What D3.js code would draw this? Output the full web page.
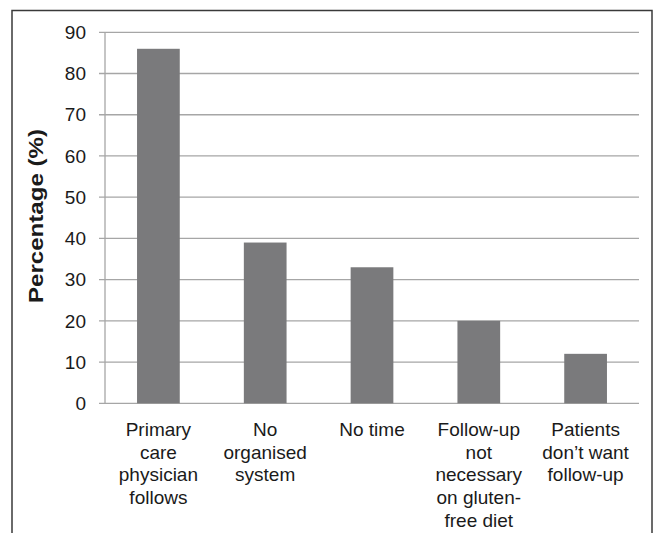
<!DOCTYPE html>
<html><head><meta charset="utf-8">
<script src="https://cdn.jsdelivr.net/npm/d3@7"></script>
<style>body{margin:0;background:#fff}svg{display:block}text{font-family:"Liberation Sans",Arial,sans-serif;fill:#1a1a1a}</style>
</head><body>
<script>
const categories = [
  ["Primary","care","physician","follows"],
  ["No","organised","system"],
  ["No time"],
  ["Follow-up","not","necessary","on gluten-","free diet"],
  ["Patients","don\u2019t want","follow-up"]
];
const values = [86, 39, 33, 20, 12];
const yTicks = [0,10,20,30,40,50,60,70,80,90];
const yTitle = "Percentage (%)";

(function(){
const W = 658, H = 533;
const svg = d3.select("body").append("svg").attr("width", W).attr("height", H);

svg.append("rect").attr("x",12).attr("y",10.5).attr("width",640).attr("height",540)
  .attr("fill","none").attr("stroke","#3a3a3a").attr("stroke-width",1.5);

const pL = 105, pR = 639, pT = 32.3, pB = 403.3;
const x = d3.scaleBand().domain(d3.range(values.length)).range([pL, pR])
  .paddingInner(0.6).paddingOuter(0.3);
const y = d3.scaleLinear().domain([0, 90]).range([pB, pT]);

svg.append("g").selectAll("line").data(yTicks).join("line")
  .attr("x1", pL - 6).attr("x2", pR)
  .attr("y1", d => y(d)).attr("y2", d => y(d))
  .attr("stroke", "#a6a6a6").attr("stroke-width", 1.3);

svg.append("line").attr("x1", pL).attr("x2", pL).attr("y1", pT).attr("y2", pB)
  .attr("stroke", "#a6a6a6").attr("stroke-width", 1.3);

svg.append("g").selectAll("text").data(yTicks).join("text")
  .attr("x", 86).attr("y", d => y(d)).attr("dy", "0.35em")
  .attr("text-anchor", "end").attr("font-size", 19).text(d => d);

svg.append("g").selectAll("rect").data(values).join("rect")
  .attr("x", (d, i) => x(i)).attr("width", x.bandwidth())
  .attr("y", d => y(d)).attr("height", d => y(0) - y(d))
  .attr("fill", "#7a7a7c");

const cat = svg.append("g").selectAll("text").data(categories).join("text")
  .attr("text-anchor", "middle").attr("font-size", 19)
  .attr("x", (d, i) => x(i) + x.bandwidth() / 2).attr("y", 436);
cat.selectAll("tspan").data(d => d).join("tspan")
  .attr("x", function(){ return this.parentNode.getAttribute("x"); })
  .attr("dy", (d, i) => i === 0 ? 0 : 22.7).text(d => d);

svg.append("text").attr("transform", "translate(43,216) rotate(-90)")
  .attr("text-anchor", "middle").attr("font-size", 21).attr("font-weight", "bold")
  .attr("textLength", 174).attr("lengthAdjust", "spacingAndGlyphs").text(yTitle);
})();
</script>
</body></html>
